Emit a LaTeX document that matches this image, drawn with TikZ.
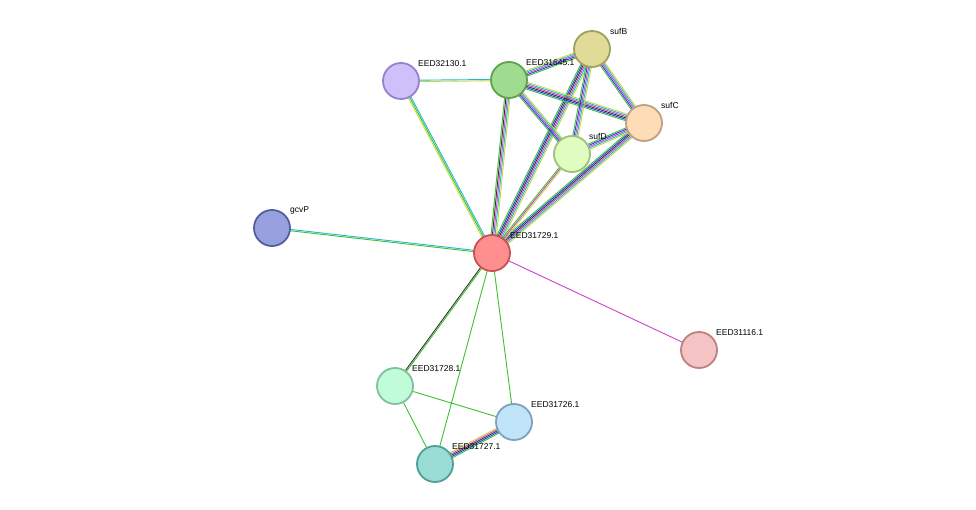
\documentclass[tikz,border=0pt]{standalone}
\usepackage{fontspec}
\setmainfont{Liberation Sans}
\usetikzlibrary{calc}
\definecolor{cnb}{HTML}{3DC12D}
\definecolor{ccy}{HTML}{22B8D0}
\definecolor{ctm}{HTML}{C6D93A}
\definecolor{cex}{HTML}{D040C8}
\definecolor{cco}{HTML}{2040E0}
\definecolor{cce}{HTML}{333333}
\newcommand{\edge}[3]{%
  \foreach \c/\k in {#3} {
    \draw [\c, line width=0.9pt] ($(#1)!\k*1.35pt!90:(#2)$) -- ($(#2)!\k*1.35pt!-90:(#1)$);
  }}
\begin{document}
\begin{tikzpicture}[x=1pt,y=-1pt]
\tikzset{ prot/.style={circle, minimum size=36pt, inner sep=0pt, line width=1.8pt},
          lbl/.style={font=\fontsize{8.5}{10}\selectfont, anchor=south west, inner sep=1pt} }
\useasboundingbox (0,0) rectangle (976,510);

\coordinate (A) at (492,253);
\coordinate (P) at (401,81);
\coordinate (G) at (509,80);
\coordinate (B) at (592,49);
\coordinate (C) at (644,123);
\coordinate (D) at (572,154);
\coordinate (V) at (272,228);
\coordinate (X) at (699,350);
\coordinate (E) at (395,386);
\coordinate (F) at (514,422);
\coordinate (H) at (435,464);

% edges
\edge{P}{A}{ctm/-1, cnb/0, ccy/1}
\edge{P}{G}{ctm/-0.5, ccy/0.5}
\edge{G}{A}{cnb/-2, cce/-1, cex/0, ccy/1, ctm/2}
\edge{B}{A}{cnb/-2.5, cco/-1.5, cce/-0.5, cex/0.5, ccy/1.5, ctm/2.5}
\edge{C}{A}{cnb/-2.5, cco/-1.5, cce/-0.5, cex/0.5, ccy/1.5, ctm/2.5}
\edge{D}{A}{cnb/-1, cex/0, ctm/1}
\edge{G}{B}{cnb/-2, cco/-1, cex/0, ccy/1, ctm/2}
\edge{G}{C}{cnb/-2.5, cco/-1.5, cce/-0.5, cex/0.5, ccy/1.5, ctm/2.5}
\edge{G}{D}{cnb/-2, cco/-1, cex/0, ccy/1, ctm/2}
\edge{B}{C}{cnb/-2, cco/-1, cex/0, ccy/1, ctm/2}
\edge{B}{D}{cnb/-2, cco/-1, cex/0, ccy/1, ctm/2}
\edge{C}{D}{cnb/-2, cco/-1, cex/0, ccy/1, ctm/2}
\edge{V}{A}{cnb/-0.5, ccy/0.5}
\edge{X}{A}{cex/0}
\edge{E}{A}{cnb/-0.5, cce/0.5}
\edge{F}{A}{cnb/0}
\edge{H}{A}{cnb/0}
\edge{E}{F}{cnb/0}
\edge{E}{H}{cnb/0}
\edge{H}{F}{cnb/-2, cco/-1, cce/0, cex/1, ctm/2}

% nodes
\node [prot, fill={rgb,255:red,255;green,143;blue,143}, draw={rgb,255:red,200;green,80;blue,80}] (a) at (A) {};
\node [prot, fill={rgb,255:red,208;green,192;blue,250}, draw={rgb,255:red,150;green,128;blue,208}] (p) at (P) {};
\node [prot, fill={rgb,255:red,160;green,220;blue,144}, draw={rgb,255:red,96;green,160;blue,80}] (g) at (G) {};
\node [prot, fill={rgb,255:red,224;green,220;blue,152}, draw={rgb,255:red,160;green,160;blue,96}] (b) at (B) {};
\node [prot, fill={rgb,255:red,253;green,220;blue,184}, draw={rgb,255:red,192;green,160;blue,128}] (c) at (C) {};
\node [prot, fill={rgb,255:red,224;green,252;blue,192}, draw={rgb,255:red,160;green,192;blue,128}] (d) at (D) {};
\node [prot, fill={rgb,255:red,152;green,160;blue,224}, draw={rgb,255:red,80;green,96;blue,160}] (v) at (V) {};
\node [prot, fill={rgb,255:red,244;green,196;blue,196}, draw={rgb,255:red,192;green,128;blue,128}] (x) at (X) {};
\node [prot, fill={rgb,255:red,192;green,252;blue,216}, draw={rgb,255:red,128;green,192;blue,160}] (e) at (E) {};
\node [prot, fill={rgb,255:red,192;green,228;blue,248}, draw={rgb,255:red,128;green,160;blue,192}] (f) at (F) {};
\node [prot, fill={rgb,255:red,152;green,220;blue,212}, draw={rgb,255:red,80;green,160;blue,152}] (h) at (H) {};

% labels
\node [lbl] at (509,240) {EED31729.1};
\node [lbl] at (417,68) {EED32130.1};
\node [lbl] at (525,67) {EED31645.1};
\node [lbl] at (609,36) {sufB};
\node [lbl] at (660,110) {sufC};
\node [lbl] at (588,141) {sufD};
\node [lbl] at (289,215) {gcvP};
\node [lbl] at (715,337) {EED31116.1};
\node [lbl] at (411,373) {EED31728.1};
\node [lbl] at (530,409) {EED31726.1};
\node [lbl] at (451,451) {EED31727.1};
\end{tikzpicture}
\end{document}
